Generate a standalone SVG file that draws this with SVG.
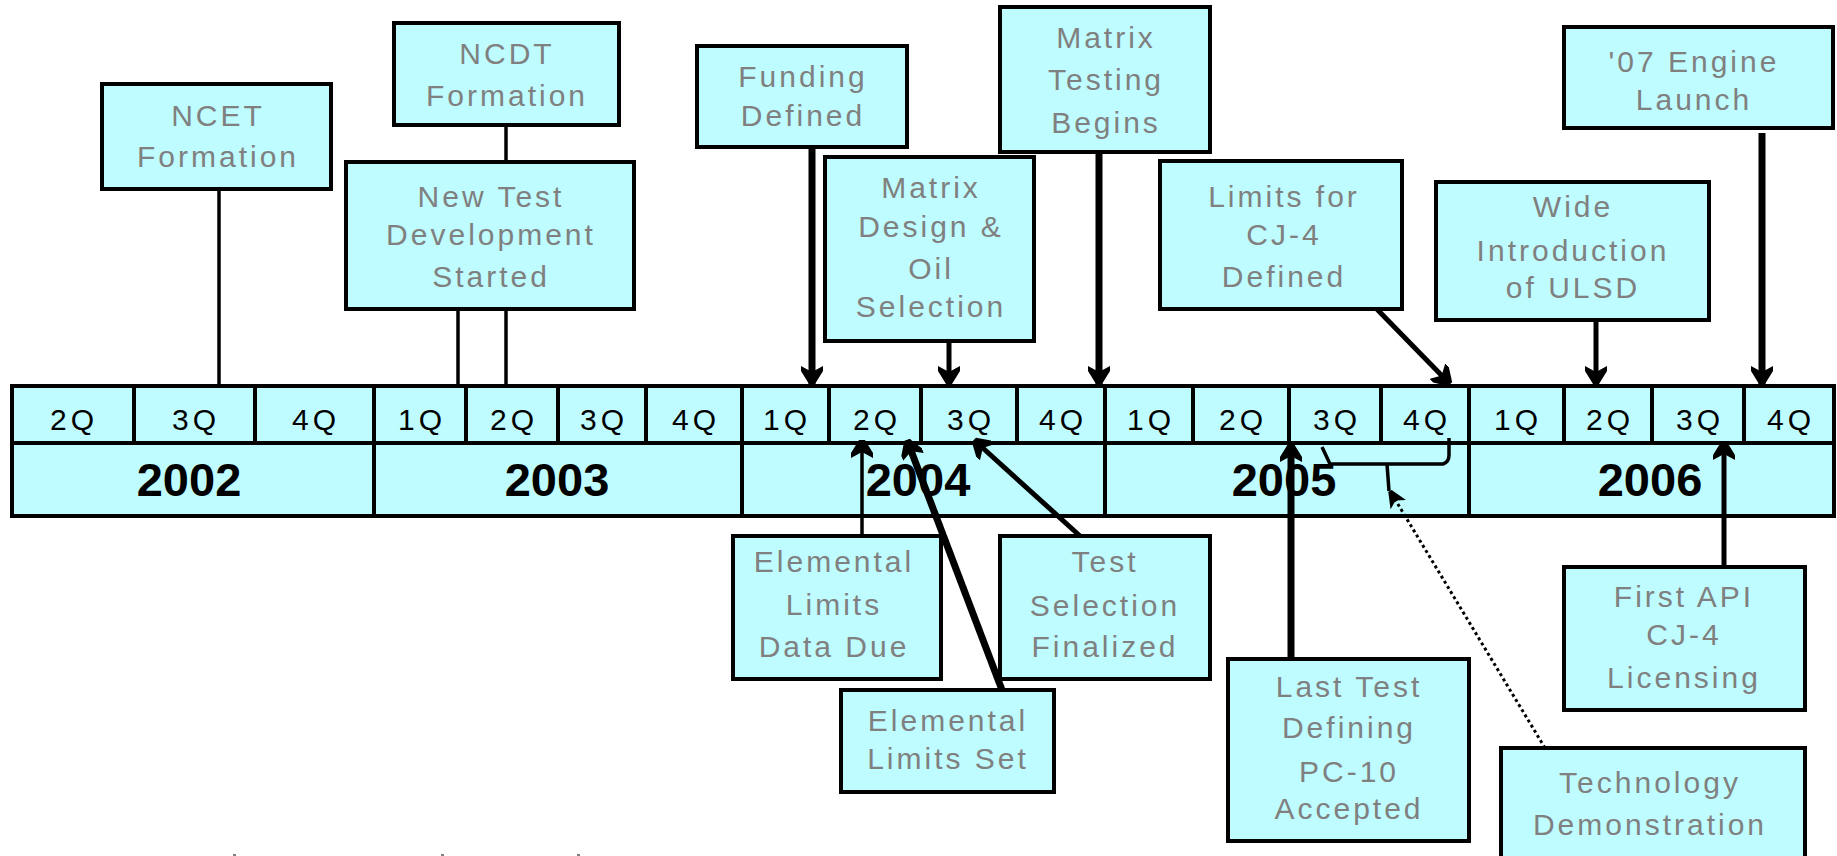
<svg xmlns="http://www.w3.org/2000/svg" width="1837" height="856" viewBox="0 0 1837 856">
<style>
.bx{fill:#BFFCFF;stroke:#000;stroke-width:4}
.bt{font-family:"Liberation Sans",Arial,sans-serif;font-size:30px;fill:#808080;text-anchor:middle;letter-spacing:3px}
.q{font-family:"Liberation Sans",Arial,sans-serif;font-size:30px;fill:#000;text-anchor:middle;letter-spacing:4px}
.y{font-family:"Liberation Sans",Arial,sans-serif;font-size:47px;font-weight:bold;fill:#000;text-anchor:middle}
.tl{fill:#BFFCFF;stroke:#000;stroke-width:4}
.dv{stroke:#000;stroke-width:4}
.c{stroke:#000;fill:none;stroke-linecap:butt}
.thin{stroke-width:3.5}
.med{stroke-width:5}
.thk{stroke-width:7}
.dot{stroke-width:3;stroke-dasharray:3 3}
</style>
<defs>
<marker id="ah" markerUnits="userSpaceOnUse" markerWidth="20" markerHeight="22" refX="18" refY="11" orient="auto">
<path d="M0,0 L5,0 L18,8 L18,14 L5,22 L0,22 L6,11 z" fill="#000"/>
</marker>
<marker id="ahs" markerUnits="userSpaceOnUse" markerWidth="18" markerHeight="18" refX="16" refY="9" orient="auto">
<path d="M0,0 L16,7 L16,11 L0,18 L5,9 z" fill="#000"/>
</marker>
</defs>
<g id="timeline">
<rect class="tl" x="12" y="386" width="1822" height="57"/>
<rect class="tl" x="12" y="443" width="1822" height="73"/>
<g class="dv">
<line x1="134" y1="386" x2="134" y2="443"/>
<line x1="255" y1="386" x2="255" y2="443"/>
<line x1="374" y1="386" x2="374" y2="516"/>
<line x1="466" y1="386" x2="466" y2="443"/>
<line x1="558" y1="386" x2="558" y2="443"/>
<line x1="646" y1="386" x2="646" y2="443"/>
<line x1="742" y1="386" x2="742" y2="516"/>
<line x1="829" y1="386" x2="829" y2="443"/>
<line x1="921" y1="386" x2="921" y2="443"/>
<line x1="1017" y1="386" x2="1017" y2="443"/>
<line x1="1105" y1="386" x2="1105" y2="516"/>
<line x1="1193" y1="386" x2="1193" y2="443"/>
<line x1="1289" y1="386" x2="1289" y2="443"/>
<line x1="1381" y1="386" x2="1381" y2="443"/>
<line x1="1469" y1="386" x2="1469" y2="516"/>
<line x1="1564" y1="386" x2="1564" y2="443"/>
<line x1="1652" y1="386" x2="1652" y2="443"/>
<line x1="1744" y1="386" x2="1744" y2="443"/>
</g>
<text class="q" x="74" y="430">2Q</text>
<text class="q" x="196" y="430">3Q</text>
<text class="q" x="316" y="430">4Q</text>
<text class="q" x="422" y="430">1Q</text>
<text class="q" x="514" y="430">2Q</text>
<text class="q" x="604" y="430">3Q</text>
<text class="q" x="696" y="430">4Q</text>
<text class="q" x="787" y="430">1Q</text>
<text class="q" x="877" y="430">2Q</text>
<text class="q" x="971" y="430">3Q</text>
<text class="q" x="1063" y="430">4Q</text>
<text class="q" x="1151" y="430">1Q</text>
<text class="q" x="1243" y="430">2Q</text>
<text class="q" x="1337" y="430">3Q</text>
<text class="q" x="1427" y="430">4Q</text>
<text class="q" x="1518" y="430">1Q</text>
<text class="q" x="1610" y="430">2Q</text>
<text class="q" x="1700" y="430">3Q</text>
<text class="q" x="1791" y="430">4Q</text>
<text class="y" x="189" y="496">2002</text>
<text class="y" x="557" y="496">2003</text>
<text class="y" x="918" y="496">2004</text>
<text class="y" x="1284" y="496">2005</text>
<text class="y" x="1650" y="496">2006</text>
</g>
<g id="connectors">
<line class="c thin" x1="219" y1="189" x2="219" y2="385"/>
<line class="c thin" x1="506" y1="124" x2="506" y2="385"/>
<line class="c thin" x1="458" y1="305" x2="458" y2="385"/>
<line class="c thk" x1="812" y1="147" x2="812" y2="384" marker-end="url(#ah)"/>
<line class="c med" x1="949" y1="334" x2="949" y2="384" marker-end="url(#ah)"/>
<line class="c thk" x1="1099" y1="146" x2="1099" y2="384" marker-end="url(#ah)"/>
<line class="c med" x1="1368" y1="300" x2="1450" y2="384" marker-end="url(#ah)"/>
<line class="c med" x1="1596" y1="316" x2="1596" y2="384" marker-end="url(#ah)"/>
<line class="c thk" x1="1762" y1="133" x2="1762" y2="384" marker-end="url(#ah)"/>
<line class="c thin" x1="862" y1="536" x2="862" y2="440" marker-end="url(#ah)"/>
<line class="c thk" x1="1002" y1="690" x2="907" y2="440" marker-end="url(#ah)"/>
<line class="c med" x1="1080" y1="536" x2="974" y2="440" marker-end="url(#ah)"/>
<line class="c thk" x1="1291" y1="659" x2="1291" y2="444" marker-end="url(#ah)"/>
<line class="c med" x1="1724" y1="567" x2="1724" y2="442" marker-end="url(#ah)"/>
<line class="c dot" x1="1545" y1="748" x2="1390" y2="491" marker-end="url(#ahs)"/>
<path class="c thin" d="M1322,447 L1330,464 L1443,464 Q1449,462 1449,455 L1449,438 M1387,464 L1389,491"/>
</g>
<g id="n-ncet"><rect class="bx" x="102" y="84" width="229" height="105"/><text class="bt" x="218" y="126">NCET</text><text class="bt" x="218" y="167">Formation</text></g>
<g id="n-ncdt"><rect class="bx" x="394" y="23" width="225" height="102"/><text class="bt" x="507" y="64">NCDT</text><text class="bt" x="507" y="106">Formation</text></g>
<g id="n-newtest"><rect class="bx" x="346" y="162" width="288" height="147"/><text class="bt" x="491" y="207">New Test</text><text class="bt" x="491" y="245">Development</text><text class="bt" x="491" y="287">Started</text></g>
<g id="n-funding"><rect class="bx" x="697" y="46" width="210" height="101"/><text class="bt" x="803" y="87">Funding</text><text class="bt" x="803" y="126">Defined</text></g>
<g id="n-matrixdesign"><rect class="bx" x="825" y="157" width="209" height="184"/><text class="bt" x="931" y="198">Matrix</text><text class="bt" x="931" y="237">Design &amp;</text><text class="bt" x="931" y="279">Oil</text><text class="bt" x="931" y="317">Selection</text></g>
<g id="n-matrixtesting"><rect class="bx" x="1000" y="7" width="210" height="145"/><text class="bt" x="1106" y="48">Matrix</text><text class="bt" x="1106" y="90">Testing</text><text class="bt" x="1106" y="133">Begins</text></g>
<g id="n-limits"><rect class="bx" x="1160" y="161" width="242" height="148"/><text class="bt" x="1284" y="207">Limits for</text><text class="bt" x="1284" y="245">CJ-4</text><text class="bt" x="1284" y="287">Defined</text></g>
<g id="n-wide"><rect class="bx" x="1436" y="182" width="273" height="138"/><text class="bt" x="1573" y="217">Wide</text><text class="bt" x="1573" y="261">Introduction</text><text class="bt" x="1573" y="298">of ULSD</text></g>
<g id="n-engine"><rect class="bx" x="1564" y="27" width="269" height="101"/><text class="bt" x="1694" y="72">'07 Engine</text><text class="bt" x="1694" y="110">Launch</text></g>
<g id="n-eldata"><rect class="bx" x="733" y="536" width="208" height="143"/><text class="bt" x="834" y="572">Elemental</text><text class="bt" x="834" y="615">Limits</text><text class="bt" x="834" y="657">Data Due</text></g>
<g id="n-elset"><rect class="bx" x="841" y="690" width="213" height="102"/><text class="bt" x="948" y="731">Elemental</text><text class="bt" x="948" y="769">Limits Set</text></g>
<g id="n-testsel"><rect class="bx" x="1000" y="536" width="210" height="143"/><text class="bt" x="1105" y="572">Test</text><text class="bt" x="1105" y="616">Selection</text><text class="bt" x="1105" y="657">Finalized</text></g>
<g id="n-lasttest"><rect class="bx" x="1228" y="659" width="241" height="182"/><text class="bt" x="1349" y="697">Last Test</text><text class="bt" x="1349" y="738">Defining</text><text class="bt" x="1349" y="782">PC-10</text><text class="bt" x="1349" y="819">Accepted</text></g>
<g id="n-tech"><rect class="bx" x="1501" y="748" width="304" height="110"/><text class="bt" x="1650" y="793">Technology</text><text class="bt" x="1650" y="835">Demonstration</text></g>
<g id="n-firstapi"><rect class="bx" x="1564" y="567" width="241" height="143"/><text class="bt" x="1684" y="607">First API</text><text class="bt" x="1684" y="645">CJ-4</text><text class="bt" x="1684" y="688">Licensing</text></g>
<g id="marks" fill="#808080"><rect x="233" y="854" width="3" height="2"/><rect x="441" y="854" width="3" height="2"/><rect x="577" y="854" width="3" height="2"/></g>
</svg>
